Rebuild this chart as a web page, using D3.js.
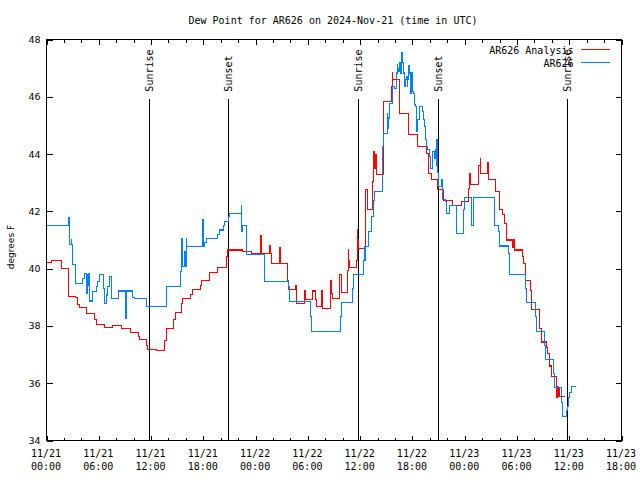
<!DOCTYPE html>
<html><head><meta charset="utf-8">
<script src="https://cdn.jsdelivr.net/npm/d3@7"></script>
<style>body{margin:0;background:#fff}</style>
</head><body>
<svg id="c" width="640" height="480"></svg>
<script>
// ---- data (hours since 2024-11-21 00:00 UTC) ----
const startMs = Date.UTC(2024, 10, 21, 0, 0);
const titleText = "Dew Point for AR626 on 2024-Nov-21 (time in UTC)";
const yLabelText = "degrees F";
const xMajorHours = [0, 6, 12, 18, 24, 30, 36, 42, 48, 54, 60, 66];
const xMinorHours = [2, 4, 8, 10, 14, 16, 20, 22, 26, 28, 32, 34, 38, 40, 44, 46, 50, 52, 56, 58, 62, 64];
const yTickValues = [34, 36, 38, 40, 42, 44, 46, 48];
const seriesNames = ["AR626 Analysis", "AR626"];
const sunHours = [11.8, 20.88, 35.78, 44.9, 59.8];
const sunLabels = ["Sunrise", "Sunset", "Sunrise", "Sunset", "Sunrise"];

const analysisHours = [0,0.61,1.69,2.56,3.33,3.59,3.79,4.63,5.51,5.70,6.66,7.61,8.64,9.61,10.59,10.67,11.44,11.63,12.66,13.51,13.74,14.58,14.81,15.53,15.64,16.49,16.72,17.64,17.79,18.71,19.66,20.66,20.78,22.53,23.50,24.56,24.70,25.60,25.68,25.86,26.74,26.86,27.63,27.81,28.64,28.72,29.61,29.70,30.57,30.84,30.96,31.53,31.65,32.60,32.68,32.79,33.63,33.83,34.52,34.63,34.70,34.78,35.55,35.66,35.73,35.85,36.58,36.88,37.45,37.57,37.65,37.72,37.84,38.72,39.57,39.68,39.75,40.52,41.55,42.62,43.65,43.88,44.16,44.92,45.57,46.63,47.60,48.47,48.55,48.66,49.62,49.78,49.85,50.59,50.73,51.50,52.00,52.38,52.57,52.77,53.52,53.60,53.75,54.60,54.79,54.95,55.55,55.63,56.59,56.78,57.42,57.54,57.74,57.93,58.57,58.65,58.73,58.80,58.88,59.46];
const analysisValues = [40.22,40.29,40.01,39.04,38.99,38.75,38.65,38.44,38.23,38.06,37.94,38.01,37.91,37.77,37.64,37.52,37.33,37.19,37.13,37.49,37.91,38.22,38.48,38.78,38.96,39.11,39.26,39.40,39.59,39.87,40.03,40.42,40.65,40.59,40.53,41.14,40.53,40.79,40.53,40.19,40.74,40.19,39.60,39.27,39.40,38.78,39.22,38.92,39.22,38.92,38.67,39.22,38.61,39.58,39.13,38.96,39.81,39.18,39.93,40.65,40.30,40.04,40.30,41.37,41.00,40.71,42.75,42.07,43.04,44.09,43.50,44.00,43.28,45.84,46.37,46.83,46.60,45.43,44.67,44.27,44.03,43.33,43.10,42.75,42.38,42.19,42.33,42.81,43.33,42.93,43.60,43.86,43.33,43.70,43.12,42.69,42.05,41.88,41.58,41.00,40.75,41.00,40.65,40.42,40.17,39.60,39.25,38.57,37.90,37.44,37.25,37.03,36.60,36.24,35.52,35.90,35.54,35.80,35.54,35.54];

const obsHours = [0,0.03,2.53,2.56,2.60,2.83,2.87,3.02,3.33,4.17,4.36,4.63,4.74,4.78,4.86,4.94,5.31,5.70,5.89,6.08,6.58,6.69,6.85,7.04,7.23,7.43,8.26,9.03,9.10,9.22,9.83,10.10,11.44,13.81,15.38,15.46,15.53,15.64,15.84,15.92,16.03,16.10,17.87,17.99,18.14,18.33,19.66,19.86,20.35,20.43,20.93,21.00,22.35,22.42,22.53,22.96,25.06,27.81,27.89,30.30,30.45,33.71,33.83,35.16,35.24,36.39,36.56,36.96,37.27,37.53,37.65,38.53,38.60,38.72,39.11,39.18,39.29,39.37,39.75,39.95,40.14,40.26,40.33,40.44,40.52,40.63,40.71,40.78,40.90,40.98,41.09,41.21,41.28,41.40,41.47,41.59,41.67,41.78,41.86,41.98,42.16,42.24,42.36,42.43,42.50,42.62,42.81,43.19,43.27,43.39,43.50,43.58,43.77,43.96,44.04,44.35,44.54,44.66,44.74,44.81,44.89,45.04,45.31,45.42,45.49,45.79,45.88,46.26,46.57,47.03,47.10,47.87,47.90,47.98,48.78,48.82,49.05,51.42,51.88,52.00,53.03,53.15,54.95,55.06,56.09,56.20,57.16,57.24,58.19,58.31,59.15,59.27,59.66,59.77,59.92,60.03,60.23,60.72];
const obsValues = [41.38,41.52,41.66,41.79,40.83,41.00,40.83,40.15,39.48,39.65,39.83,39.13,39.80,39.40,39.83,38.87,39.19,39.37,39.55,39.78,39.30,38.78,39.08,39.37,39.72,38.96,39.22,38.87,38.26,39.22,39.00,38.96,38.69,39.39,39.89,40.38,41.06,40.09,40.60,40.09,41.06,40.77,41.73,40.77,40.90,41.06,41.20,41.35,41.52,41.66,41.82,41.93,42.22,41.29,41.52,40.50,39.54,39.37,38.84,38.32,37.81,38.32,38.82,39.31,39.81,40.30,40.77,41.29,41.82,42.38,42.69,43.33,44.27,44.73,45.43,44.90,45.26,45.78,46.37,46.30,46.83,47.13,47.00,46.90,47.20,46.83,47.30,47.56,47.20,46.83,46.37,46.60,46.70,46.37,46.60,47.10,46.83,46.13,46.83,46.20,46.13,45.73,45.66,44.97,44.78,45.20,45.66,45.50,45.20,44.97,44.50,44.27,44.15,43.92,43.51,44.09,43.85,44.15,43.60,44.50,43.36,42.87,43.10,42.63,42.40,42.34,41.93,42.19,42.22,41.70,41.23,41.30,42.05,42.48,42.05,41.52,42.49,41.52,41.29,40.79,40.53,39.80,39.31,38.82,38.32,37.81,37.33,36.82,36.33,35.84,35.34,34.84,35.05,35.20,35.50,35.69,35.89,35.89];

// ---- drawing ----
const mono = "'DejaVu Sans Mono', 'Liberation Mono', monospace";
const sans = "'DejaVu Sans', 'Liberation Sans', sans-serif";
const colors = ["#ff0000", "#0080ff"];
const toDate = h => new Date(startMs + h * 3600000);

const svg = d3.select("#c");
svg.append("rect").attr("width", 640).attr("height", 480).attr("fill", "#fff");

const L = 46.5, R = 621.5, T = 39.5, B = 440.5;
const x = d3.scaleUtc().domain([toDate(0), toDate(66)]).range([L, R]);
const y = d3.scaleLinear().domain([34, 48]).range([B, T]);

const g = svg.append("g").attr("shape-rendering", "crispEdges");

// minor x ticks (bottom and top)
g.append("g").attr("transform", `translate(0,${B})`)
  .call(d3.axisBottom(x).tickValues(xMinorHours.map(toDate)).tickSize(-3).tickFormat(""))
  .call(s => s.select(".domain").remove());
g.append("g").attr("transform", `translate(0,${T})`)
  .call(d3.axisTop(x).tickValues(xMinorHours.map(toDate)).tickSize(-3).tickFormat(""))
  .call(s => s.select(".domain").remove());
// major x ticks
const fmtD = d3.utcFormat("%m/%d"), fmtT = d3.utcFormat("%H:%M");
const xb = g.append("g").attr("transform", `translate(0,${B})`)
  .call(d3.axisBottom(x).tickValues(xMajorHours.map(toDate)).tickSize(-5).tickPadding(0).tickFormat(""));
xb.select(".domain").remove();
xb.selectAll(".tick text").remove();
xb.selectAll(".tick").append("text")
  .attr("fill", "#000").attr("font-family", mono).attr("font-size", "10px").attr("text-anchor", "middle")
  .attr("x", -1)
  .each(function(d) {
    const t = d3.select(this);
    t.append("tspan").attr("x", -1).attr("y", 16.5).text(fmtD(d));
    t.append("tspan").attr("x", -1).attr("y", 29.5).text(fmtT(d));
  });
g.append("g").attr("transform", `translate(0,${T})`)
  .call(d3.axisTop(x).tickValues(xMajorHours.map(toDate)).tickSize(-5).tickFormat(""))
  .call(s => s.select(".domain").remove());

// y ticks
const yl = g.append("g").attr("transform", `translate(${L},0)`)
  .call(d3.axisLeft(y).tickValues(yTickValues).tickSize(-6).tickPadding(6).tickFormat(d3.format("d")));
yl.select(".domain").remove();
yl.selectAll(".tick text").attr("font-family", sans).attr("font-size", "9.5px").attr("fill", "#000");
g.append("g").attr("transform", `translate(${R},0)`)
  .call(d3.axisRight(y).tickValues(yTickValues).tickSize(-6).tickFormat(""))
  .call(s => s.select(".domain").remove());

svg.selectAll(".tick line").attr("stroke", "#000");

// sun lines
const sunG = svg.append("g");
sunHours.forEach((h, i) => {
  const xp = Math.round(x(toDate(h))) + 0.5;
  sunG.append("line").attr("x1", xp).attr("x2", xp).attr("y1", y(45.93)).attr("y2", y(34))
    .attr("stroke", "#000").attr("stroke-width", 1).attr("shape-rendering", "crispEdges");
  sunG.append("text").attr("transform", `translate(${xp},${y(46.18)}) rotate(-90)`)
    .attr("font-family", mono).attr("font-size", "10px").attr("dominant-baseline", "central")
    .attr("text-anchor", "start").attr("fill", "#000").text(sunLabels[i]);
});

// data lines
const series = [
  analysisHours.map((h, i) => [toDate(h), analysisValues[i]]),
  obsHours.map((h, i) => [toDate(h), obsValues[i]])
];
const line = d3.line().x(d => x(d[0])).y(d => y(d[1])).curve(d3.curveStepAfter);
series.forEach((s, i) => {
  svg.append("path").datum(s).attr("d", line).attr("fill", "none")
    .attr("stroke", colors[i]).attr("stroke-width", 1.1).attr("shape-rendering", "crispEdges");
});

// border
svg.append("rect").attr("x", L).attr("y", T).attr("width", R - L).attr("height", B - T)
  .attr("fill", "none").attr("stroke", "#000").attr("shape-rendering", "crispEdges");

// legend
seriesNames.forEach((n, i) => {
  const yy = 50.5 + i * 13;
  svg.append("text").attr("x", 573.5).attr("y", yy).attr("dominant-baseline", "central")
    .attr("text-anchor", "end").attr("font-family", mono).attr("font-size", "10px").attr("fill", "#000").text(n);
  svg.append("line").attr("x1", 581).attr("x2", 610).attr("y1", yy - 1).attr("y2", yy - 1)
    .attr("stroke", colors[i]).attr("shape-rendering", "crispEdges");
});

// title & y label
svg.append("text").attr("x", 333).attr("y", 20).attr("dominant-baseline", "central")
  .attr("text-anchor", "middle").attr("font-family", mono).attr("font-size", "10px").attr("fill", "#000").text(titleText);
svg.append("text").attr("transform", "translate(11,247) rotate(-90)").attr("dominant-baseline", "central")
  .attr("text-anchor", "middle").attr("font-family", sans).attr("font-size", "9px").attr("fill", "#000").text(yLabelText);
</script>
</body></html>
